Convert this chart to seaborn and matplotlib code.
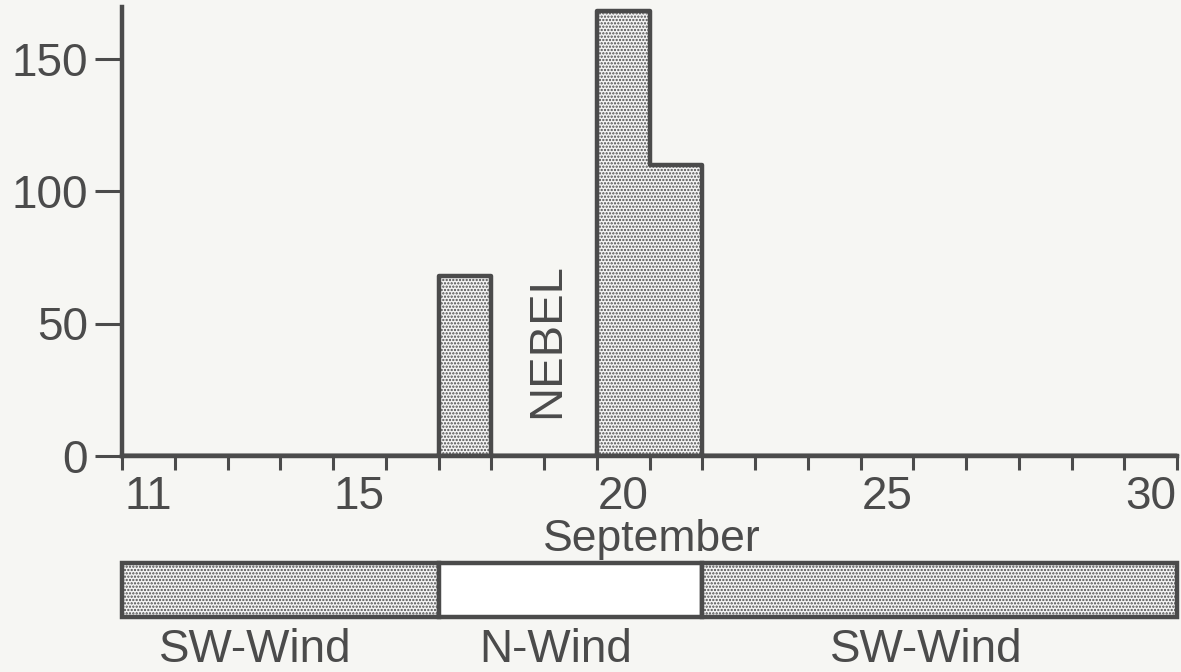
import numpy as np
import pandas as pd
import matplotlib
matplotlib.use("Agg")
import matplotlib.pyplot as plt
import seaborn as sns

# ---- data ----
days = [17, 20, 21]
counts = [68, 168, 110]
day_edges = np.arange(10.5, 31.0, 1.0)
label_days = [11, 15, 20, 25, 30]
y_ticks = [0, 50, 100, 150]
wind_labels = ["SW-Wind", "N-Wind", "SW-Wind"]
wind_start = [10.5, 16.5, 21.5]
wind_end = [16.5, 21.5, 30.5]
wind_filled = [True, False, True]
fog_label = "NEBEL"
x_title = "September"

sns.set_theme(style="ticks")
plt.rcParams["font.family"] = ["Liberation Sans", "DejaVu Sans"]
plt.rcParams["hatch.color"] = "#5a5a5a"
plt.rcParams["hatch.linewidth"] = 1.1

INK = "#4b4b4b"
BG = "#f6f6f3"
W, H = 1181, 672
fig = plt.figure(figsize=(W / 100, H / 100), dpi=100, facecolor=BG)

px_per_day = 52.75
x0 = 10.5
xlim = (x0, x0 + (W - 122) / px_per_day)
ax = fig.add_axes([122 / W, (H - 456) / H, (W - 122) / W, 456 / H])
ax.set_facecolor(BG)

df = pd.DataFrame({"day": days, "count": counts})
sns.histplot(data=df, x="day", weights="count", binwidth=1,
             binrange=(10.5, 30.5), element="step",
             fill=True, ax=ax, color="#e4e4e4", alpha=1)
for coll in ax.collections:
    coll.set_hatch(".....")
    coll.set_facecolor("#f4f4f4")
    coll.set_edgecolor(INK)
    coll.set_linewidth(3.2)
for ln in ax.lines:
    ln.set_color(INK)
    ln.set_linewidth(3.2)

ax.set_xlim(*xlim)
ax.set_ylim(0, 456 / 2.65)
ax.set_xlabel("")
ax.set_ylabel("")

sns.despine(ax=ax)
for s in ["left", "bottom"]:
    ax.spines[s].set_color(INK)
    ax.spines[s].set_linewidth(3.2)
ax.spines["left"].set_bounds(0, (456 - 7) / 2.65)
ax.spines["bottom"].set_bounds(x0, 30.5)

ax.set_yticks(y_ticks)
ax.set_yticklabels([str(v) for v in y_ticks])
ax.tick_params(axis="y", direction="out", length=19.5, width=2.2, color=INK,
               pad=5, labelsize=33, labelcolor=INK)

ax.set_xticks(day_edges)
ax.set_xticklabels([])
ax.tick_params(axis="x", which="major", direction="out", length=10, width=2.2,
               color=INK)
ax.set_xticks(label_days, minor=True)
ax.set_xticklabels([str(d) for d in label_days], minor=True)
ax.tick_params(axis="x", which="minor", length=0, pad=14, labelsize=33,
               labelcolor=INK)

ax.text(18.56, (456 - 341) / 2.65, fog_label, rotation=90, ha="center",
        va="center", fontsize=34, color=INK)

fig.text(652 / W, 1 - 551 / H, x_title, ha="center", va="baseline",
         fontsize=32, color=INK)

# wind bar
axw = fig.add_axes([122 / W, (H - 617) / H, (W - 122) / W, 54 / H])
axw.set_xlim(*xlim)
axw.set_ylim(0, 1)
axw.axis("off")
for s, e, f in zip(wind_start, wind_end, wind_filled):
    axw.barh(0.5, e - s, left=s, height=1.0, color="#f4f4f4" if f else "white",
             edgecolor=INK, linewidth=3.2, hatch="....." if f else None,
             clip_on=False)

label_x = [13.02, 18.73, 25.74]
for lx, lab in zip(label_x, wind_labels):
    fig.text((122 + (lx - x0) * px_per_day) / W, 1 - 662 / H, lab,
             ha="center", va="baseline", fontsize=33, color=INK)

fig.savefig("out.png", dpi=100, facecolor=BG)
